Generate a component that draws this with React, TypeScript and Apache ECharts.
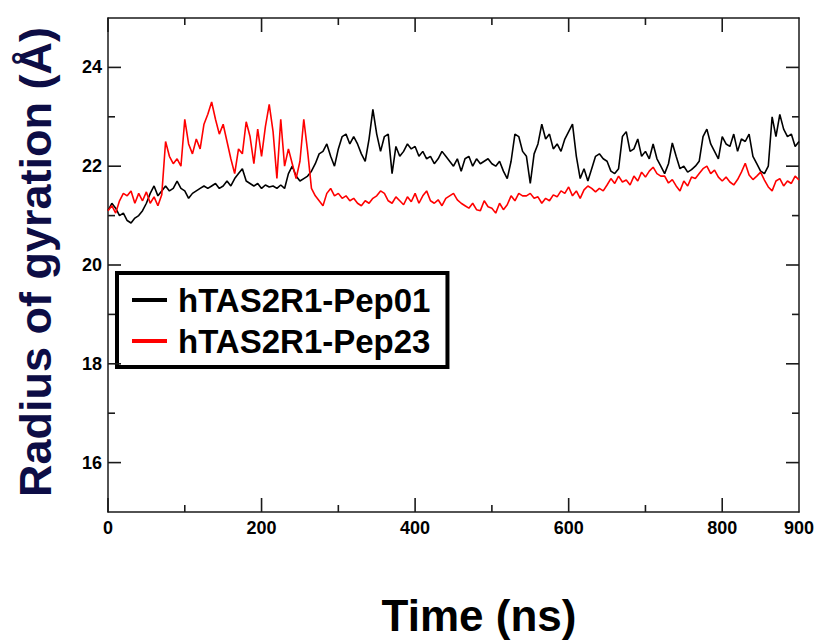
import React, { useEffect, useRef } from "react";
import * as echarts from "echarts";

// Sampling grid (ns)
const timeNs: number[] = Array.from({ length: 181 }, (_, i) => i * 5);

// Radius of gyration (Å), every 5 ns
const pep01: number[] = [
  21.1, 21.25, 21.15, 21.0, 21.05, 20.9, 20.85, 20.95, 21.0, 21.1, 21.25, 21.45, 21.6, 21.4, 21.5, 21.6, 21.5, 21.55,
  21.7, 21.55, 21.5, 21.35, 21.45, 21.5, 21.55, 21.6, 21.55, 21.6, 21.65, 21.55, 21.6, 21.7, 21.6, 21.75, 21.85, 21.95,
  21.7, 21.65, 21.6, 21.65, 21.55, 21.62, 21.58, 21.6, 21.55, 21.62,
  21.55, 21.85, 22.0, 21.8, 21.7, 21.75, 21.8, 21.9, 22.05, 22.25, 22.3, 22.45, 22.2, 22.0, 22.35, 22.6, 22.65, 22.45,
  22.6, 22.45, 22.25, 22.1, 22.55, 23.15, 22.65, 22.3, 22.6,
  22.65, 21.85, 22.4, 22.2, 22.3, 22.45, 22.35, 22.4, 22.2, 22.3, 22.15, 22.2, 22.05, 22.15, 22.3, 22.2, 22.1, 22.0,
  22.15, 21.9, 22.15, 22.2, 22.0, 22.15, 22.05, 22.1, 22.15, 22.05, 22.0, 22.1, 21.9, 21.75, 22.1, 22.65, 22.6, 22.3,
  22.2, 21.65, 22.25, 22.45, 22.85, 22.55, 22.65, 22.35, 22.45, 22.3, 22.55, 22.7, 22.85,
  22.2, 21.75, 21.95, 21.7, 21.95, 22.2, 22.25, 22.15, 22.1, 21.9, 21.85, 21.95, 22.6, 22.7, 22.3, 22.35, 22.55, 22.2,
  22.3, 22.15, 22.45, 22.15, 22.0,
  21.85, 22.05, 22.47, 22.2, 21.95, 22.0, 21.88, 21.93, 22.0, 22.1, 22.6, 22.75, 22.45, 22.3, 22.15, 22.6, 22.45, 22.4,
  22.65, 22.3, 22.55, 22.5, 22.65, 22.2, 22.05, 21.9, 21.85, 22.0, 23.0, 22.6, 23.05, 22.75, 22.6, 22.65, 22.4, 22.5,
];

const pep23: number[] = [
  21.1, 21.2, 21.05, 21.3, 21.45, 21.4, 21.5, 21.25, 21.45, 21.3, 21.48, 21.25, 21.38, 21.2, 21.42,
  22.5, 22.2, 22.05, 22.15, 22.0, 22.95, 22.45, 22.25, 22.55, 22.35, 22.85, 23.05, 23.3, 22.95, 22.65, 22.85, 22.5,
  22.15, 21.85, 22.35, 22.25,
  22.9, 22.6, 22.05, 22.75, 22.2, 22.8, 23.25, 22.7, 21.75, 22.95, 22.0, 22.35, 22.05, 21.75, 22.1, 22.95, 22.3, 21.55,
  21.4, 21.3, 21.2, 21.45, 21.55, 21.4, 21.45, 21.35, 21.4, 21.3, 21.35, 21.25, 21.2, 21.3, 21.25, 21.35, 21.4, 21.5,
  21.45,
  21.3, 21.25, 21.38, 21.3, 21.22, 21.38, 21.28, 21.45, 21.25, 21.4, 21.5, 21.3, 21.25, 21.32, 21.2, 21.35, 21.4, 21.45,
  21.32, 21.25, 21.2, 21.15, 21.25, 21.12, 21.1, 21.3, 21.18, 21.15, 21.05, 21.25, 21.12, 21.22, 21.4, 21.3, 21.45, 21.4,
  21.4, 21.45, 21.35, 21.38, 21.25, 21.35, 21.3, 21.42, 21.38, 21.5, 21.45, 21.58, 21.4, 21.5, 21.35, 21.52, 21.6, 21.55,
  21.48, 21.55, 21.5, 21.62, 21.75, 21.65, 21.8, 21.68, 21.72, 21.62, 21.8, 21.7, 21.88, 21.78, 21.9, 21.98, 21.85, 21.8,
  21.8, 21.66, 21.73, 21.6, 21.5, 21.7, 21.6, 21.78, 21.75, 21.85, 21.95, 22.0, 21.85, 21.92, 21.78, 21.7, 21.78, 21.68,
  21.62, 21.73, 21.88, 22.06, 21.82, 21.73, 21.8, 21.88, 21.72, 21.58, 21.5, 21.7, 21.75, 21.6, 21.7, 21.65, 21.8, 21.72,
];

const seriesNames: string[] = ["hTAS2R1-Pep01", "hTAS2R1-Pep23"];
const seriesColors: string[] = ["#000000", "#ff0000"];

const X_MIN = 0;
const X_MAX = 900;
const Y_MIN = 15;
const Y_MAX = 25;

const xLabels: number[] = [0, 200, 400, 600, 800, 900];
const yLabels: number[] = [16, 18, 20, 22, 24];
const xMajorTicks: number[] = [0, 200, 400, 600, 800];
const xMinorTicks: number[] = [100, 300, 500, 700];
const yMajorTicks: number[] = [16, 18, 20, 22, 24];
const yMinorTicks: number[] = [17, 19, 21, 23];

const FONT = "'Liberation Sans', Arial, Helvetica, sans-serif";
const AXIS_COLOR = "#1a1a1a";

export default function App() {
  const ref = useRef<HTMLDivElement>(null);

  useEffect(() => {
    if (!ref.current) return;
    const chart = echarts.init(ref.current, undefined, { renderer: "svg" });

    const labelStyle = { color: "#000", fontSize: 18, fontWeight: "bold", fontFamily: FONT };

    const mkX = (position: string, withLabels: boolean) => ({
      type: "value",
      position,
      min: X_MIN,
      max: X_MAX,
      axisLine: { show: true, onZero: false, lineStyle: { color: AXIS_COLOR, width: 1.5 } },
      axisTick: { show: false },
      axisLabel: withLabels ? { show: true, customValues: xLabels, margin: 7, ...labelStyle } : { show: false },
      splitLine: { show: false },
    });
    const mkY = (position: string, withLabels: boolean) => ({
      type: "value",
      position,
      min: Y_MIN,
      max: Y_MAX,
      axisLine: { show: true, onZero: false, lineStyle: { color: AXIS_COLOR, width: 1.5 } },
      axisTick: { show: false },
      axisLabel: withLabels ? { show: true, customValues: yLabels, margin: 6, ...labelStyle } : { show: false },
      splitLine: { show: false },
    });

    // Inward tick marks on all four sides, positioned through the axes' scales
    const tickSeries = (vals: number[], dim: "x" | "y", len: number) => ({
      type: "custom",
      coordinateSystem: "cartesian2d",
      xAxisIndex: 0,
      yAxisIndex: 0,
      silent: true,
      clip: false,
      z: 10,
      data: vals.map((v) => (dim === "x" ? [v, Y_MIN] : [X_MIN, v])),
      renderItem: (_params: any, api: any) => {
        const st = { stroke: AXIS_COLOR, lineWidth: 1.6, fill: null };
        if (dim === "x") {
          const v = api.value(0);
          const a = api.coord([v, Y_MIN]);
          const b = api.coord([v, Y_MAX]);
          return {
            type: "group",
            children: [
              { type: "line", shape: { x1: a[0], y1: a[1], x2: a[0], y2: a[1] - len }, style: st },
              { type: "line", shape: { x1: b[0], y1: b[1], x2: b[0], y2: b[1] + len }, style: st },
            ],
          };
        }
        const v = api.value(1);
        const a = api.coord([X_MIN, v]);
        const b = api.coord([X_MAX, v]);
        return {
          type: "group",
          children: [
            { type: "line", shape: { x1: a[0], y1: a[1], x2: a[0] + len, y2: a[1] }, style: st },
            { type: "line", shape: { x1: b[0], y1: b[1], x2: b[0] - len, y2: b[1] }, style: st },
          ],
        };
      },
    });

    const option: any = {
      animation: false,
      backgroundColor: "#ffffff",
      grid: { left: 108, top: 18, right: 19, bottom: 128, containLabel: false, outerBoundsMode: "none" },
      xAxis: [mkX("bottom", true), mkX("top", false)],
      yAxis: [mkY("left", true), mkY("right", false)],
      legend: {
        show: true,
        orient: "vertical",
        left: 117,
        top: 273,
        padding: [9, 17, 8, 15],
        itemGap: 5,
        itemWidth: 35,
        itemHeight: 4,
        icon: "rect",
        borderColor: "#000",
        borderWidth: 4,
        backgroundColor: "#ffffff",
        data: seriesNames,
        textStyle: { color: "#000", fontSize: 33, fontWeight: "bold", fontFamily: FONT, lineHeight: 36, padding: [0, 0, 0, 6] },
      },
      series: [
        ...seriesNames.map((name, k) => ({
          name,
          type: "line",
          xAxisIndex: 0,
          yAxisIndex: 0,
          showSymbol: false,
          symbol: "none",
          color: seriesColors[k],
          lineStyle: { color: seriesColors[k], width: 1.6 },
          data: timeNs.map((t, i) => [t, (k === 0 ? pep01 : pep23)[i]]),
        })),
        tickSeries(xMajorTicks, "x", 14),
        tickSeries(xMinorTicks, "x", 7),
        tickSeries(yMajorTicks, "y", 13),
        tickSeries(yMinorTicks, "y", 7),
      ],
      graphic: [
        {
          type: "text", x: 35, y: 262, rotation: Math.PI / 2,
          style: { text: "Radius of gyration (Å)", fill: "#0d0d45", fontSize: 45, fontWeight: "bold", fontFamily: FONT, textAlign: "center", textVerticalAlign: "middle" },
        },
        {
          type: "text", x: 479, y: 615,
          style: { text: "Time (ns)", fill: "#000", fontSize: 44, fontWeight: "bold", fontFamily: FONT, textAlign: "center", textVerticalAlign: "middle" },
        },
      ],
    };

    chart.setOption(option);
    return () => chart.dispose();
  }, []);

  return <div ref={ref} style={{ position: "absolute", left: 0, top: 0, width: 818, height: 640 }} />;
}
